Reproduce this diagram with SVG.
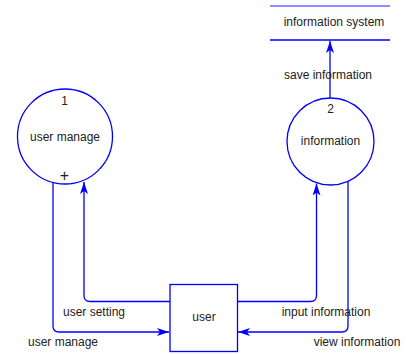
<svg xmlns="http://www.w3.org/2000/svg" width="406" height="354" viewBox="0 0 406 354">
<style>
.shape{fill:#ffffff;stroke:#0000ff;stroke-width:1.3}
.line{fill:none;stroke:#0000ff;stroke-width:1.3}
text{font-family:"Liberation Sans",Arial,sans-serif;font-size:12px;fill:#222222;text-anchor:middle}
</style>
<defs>
<marker id="arr" viewBox="0 0 12 8" markerWidth="12" markerHeight="8" refX="12" refY="4" orient="auto" markerUnits="userSpaceOnUse">
<path d="M0,0 L12,4 L0,8 L3,4 Z" fill="#0000ff"/>
</marker>
</defs>
<rect width="406" height="354" fill="#ffffff"/>
<g id="connectors">
<path class="line" d="M53,182 L53,326 Q53,332 59,332 L169,332" marker-end="url(#arr)"/>
<path class="line" d="M170,301.5 L90,301.5 Q84,301.5 84,295.5 L84,182" marker-end="url(#arr)"/>
<path class="line" d="M237.5,301.5 L310.5,301.5 Q316.5,301.5 316.5,295.5 L316.5,183.5" marker-end="url(#arr)"/>
<path class="line" d="M348,181 L348,326 Q348,332 342,332 L238,332" marker-end="url(#arr)"/>
<path class="line" d="M330,98 L330,41" marker-end="url(#arr)"/>
<text x="94" y="316">user setting</text>
<text x="63" y="346">user manage</text>
<text x="326" y="316">input information</text>
<text x="357" y="346">view information</text>
<text x="328" y="79">save information</text>
</g>
<g id="node-user-manage">
<circle class="shape" cx="65" cy="136.5" r="47.5"/>
<text x="64.5" y="105">1</text>
<text x="65" y="141">user manage</text>
<text x="64.5" y="180.5" style="font-size:16px">+</text>
</g>
<g id="node-information">
<circle class="shape" cx="330.5" cy="141.5" r="43.5"/>
<text x="330.5" y="112.5">2</text>
<text x="330.5" y="145">information</text>
</g>
<g id="node-store">
<line class="line" x1="270" y1="6" x2="390" y2="6" stroke-opacity="0.6"/>
<line class="line" x1="270" y1="40" x2="390" y2="40"/>
<text x="334" y="26">information system</text>
</g>
<g id="node-user">
<rect class="shape" x="170" y="284.5" width="67.5" height="67"/>
<text x="204" y="321">user</text>
</g>
</svg>
